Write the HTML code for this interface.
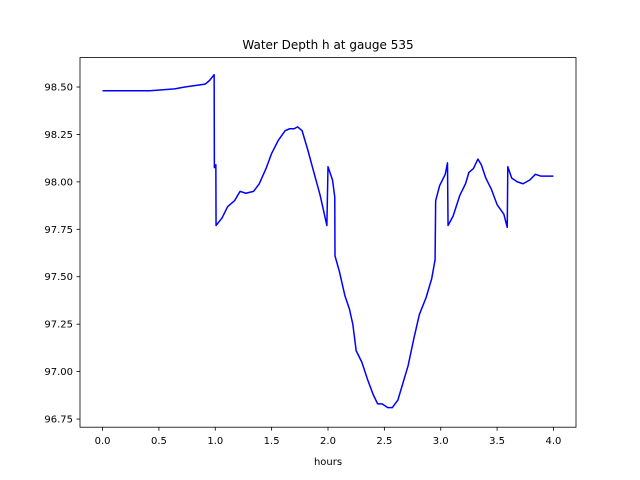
<!DOCTYPE html>
<html><head><meta charset="utf-8"><style>body{margin:0;background:#fff}svg{display:block;font-family:"DejaVu Sans","Liberation Sans",sans-serif}</style></head>
<body>
<svg id="chart" width="640" height="480" viewBox="0 0 640 480"></svg>
<script>
const xTicks=[0,0.5,1,1.5,2,2.5,3,3.5,4];
const xTickLabels=["0.0","0.5","1.0","1.5","2.0","2.5","3.0","3.5","4.0"];
const yTicks=[96.75,97,97.25,97.5,97.75,98,98.25,98.5];
const yTickLabels=["96.75","97.00","97.25","97.50","97.75","98.00","98.25","98.50"];
const hours=[0,0.42,0.64,0.73,0.91,0.95,0.99,0.992,1.005,1.007,1.06,1.11,1.17,1.22,1.27,1.34,1.39,1.45,1.5,1.56,1.62,1.66,1.7,1.73,1.77,1.82,1.87,1.93,1.99,2.0,2.04,2.06,2.062,2.1,2.15,2.19,2.22,2.25,2.3,2.35,2.4,2.44,2.48,2.53,2.57,2.62,2.66,2.71,2.76,2.81,2.87,2.92,2.95,2.955,2.99,3.04,3.06,3.065,3.11,3.17,3.22,3.25,3.29,3.33,3.36,3.4,3.45,3.5,3.56,3.59,3.595,3.63,3.68,3.73,3.79,3.84,3.89,3.94,4.0];
const depth=[98.48,98.48,98.49,98.5,98.515,98.535,98.565,98.075,98.09,97.77,97.81,97.87,97.9,97.95,97.94,97.95,97.99,98.07,98.15,98.22,98.27,98.28,98.28,98.29,98.27,98.17,98.06,97.93,97.77,98.08,98.01,97.92,97.61,97.53,97.4,97.33,97.25,97.11,97.05,96.96,96.88,96.83,96.83,96.81,96.81,96.85,96.93,97.03,97.17,97.3,97.39,97.49,97.59,97.9,97.98,98.04,98.1,97.77,97.82,97.93,97.99,98.05,98.07,98.12,98.09,98.02,97.96,97.88,97.83,97.76,98.08,98.02,98.0,97.99,98.01,98.04,98.03,98.03,98.03];
const L=80,R=576,T=57.6,B=427.2;
const xMin=-0.2,xMax=4.2,yMin=96.707,yMax=98.655;
const sx=v=>L+(v-xMin)/(xMax-xMin)*(R-L);
const sy=v=>B-(v-yMin)/(yMax-yMin)*(B-T);
const svg=document.getElementById('chart');const NS="http://www.w3.org/2000/svg";
function mk(t,a,txt){const e=document.createElementNS(NS,t);for(const k in a)e.setAttribute(k,a[k]);if(txt!==undefined)e.textContent=txt;svg.appendChild(e);return e;}
let d=hours.map((h,i)=>(i?'L':'M')+sx(h).toFixed(2)+','+sy(depth[i]).toFixed(2)).join('');
const line=mk('path',{d:d,fill:'none',stroke:'#0000ff','stroke-width':1.5,'stroke-linejoin':'round'});


const frame=mk('rect',{x:L,y:T,width:R-L,height:B-T,fill:'none',stroke:'#000','stroke-width':0.8});


xTicks.forEach((v,i)=>{const x=sx(v);mk('line',{x1:x,x2:x,y1:B,y2:B+3.5,stroke:'#000','stroke-width':0.8});
const t=mk('text',{x:x,y:B+17,'text-anchor':'middle','font-size':10},xTickLabels[i]);

});
yTicks.forEach((v,i)=>{const y=sy(v);mk('line',{x1:L-3.5,x2:L,y1:y,y2:y,stroke:'#000','stroke-width':0.8});
const t=mk('text',{x:L-7,y:y+3.5,'text-anchor':'end','font-size':10},yTickLabels[i]);

});
const xt=mk('text',{x:(L+R)/2,y:465,'text-anchor':'middle','font-size':10},'hours');


const tt=mk('text',{x:(L+R)/2,y:49,'text-anchor':'middle','font-size':12},'Water Depth h at gauge 535');


</script>
</body></html>
